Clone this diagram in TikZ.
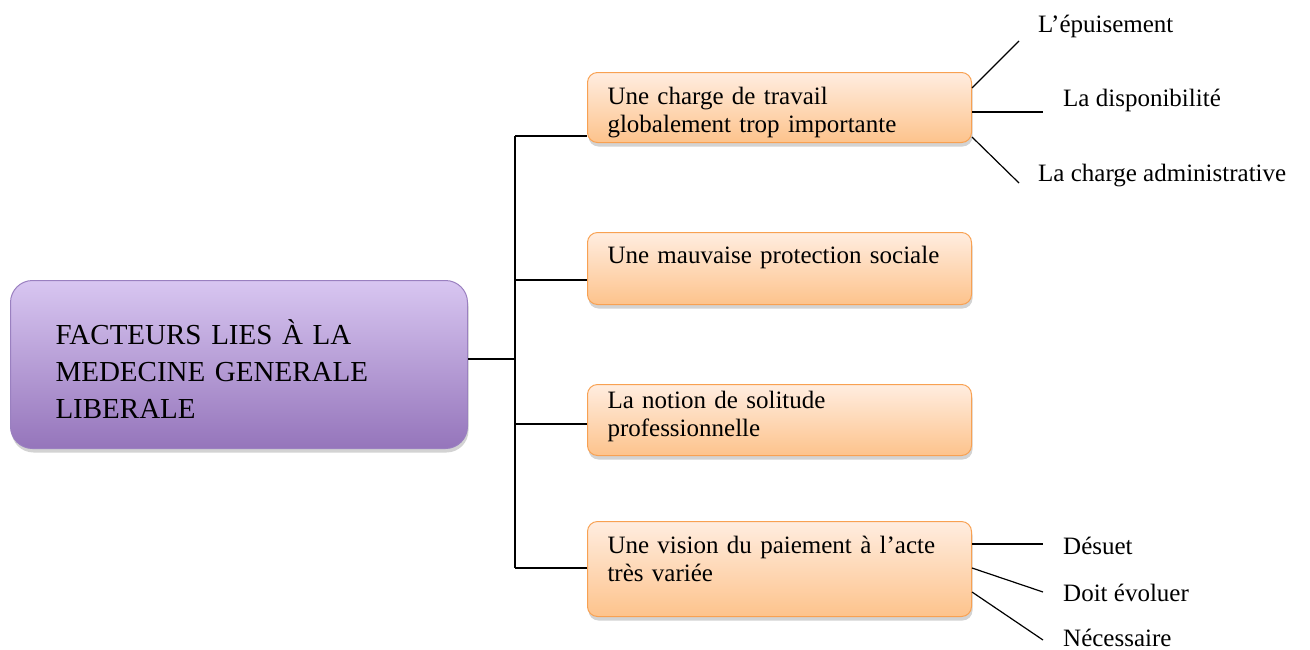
\documentclass[tikz,border=0pt]{standalone}
\usepackage{fontspec}
\setmainfont{Liberation Serif}
\usepackage{tikz}
\usetikzlibrary{calc,shadows}

\definecolor{lilastop}{HTML}{D8C6F1}
\definecolor{lilasbot}{HTML}{9575BB}
\definecolor{lilasbord}{HTML}{9A80C0}
\definecolor{orangetop}{HTML}{FFEDE0}
\definecolor{orangebot}{HTML}{FDC38C}
\definecolor{orangebord}{HTML}{F8A152}

\tikzset{
  theme/.style={draw=lilasbord,line width=1pt,rounded corners=22pt,
    top color=lilastop,bottom color=lilasbot,anchor=north west,
    inner xsep=45pt,inner ysep=0pt,text width=367pt,align=left,
    font=\fontsize{29}{37}\selectfont,
    drop shadow={shadow xshift=1pt,shadow yshift=-4pt,opacity=.35}},
  facteur/.style={draw=orangebord,line width=1pt,rounded corners=10pt,
    top color=orangetop,bottom color=orangebot,anchor=north west,
    inner xsep=20pt,inner ysep=0pt,text width=344pt,align=left,
    font=\fontsize{25}{28}\selectfont,
    drop shadow={shadow xshift=1pt,shadow yshift=-4pt,opacity=.35}},
  detail/.style={anchor=base west,inner sep=0pt,font=\fontsize{25}{28}\selectfont},
  trait/.style={line width=1.2pt}
}

\begin{document}
\begin{tikzpicture}[x=1pt,y=-1pt]
  \useasboundingbox (0,0) rectangle (1310,649);
  % theme central
  \node[theme,text height=64pt,text depth=104pt](main)at(10,280)
    {FACTEURS LIES À LA\\MEDECINE GENERALE\\LIBERALE};
  % les quatre facteurs
  \node[facteur,text height=32pt,text depth=38pt](f1)at(587,72)
    {Une charge de travail\\globalement trop importante};
  \node[facteur,text height=31pt,text depth=41pt](f2)at(587,232)
    {Une mauvaise protection sociale};
  \node[facteur,text height=24pt,text depth=47pt](f3)at(587,384)
    {La notion de solitude\\professionnelle};
  \node[facteur,text height=32pt,text depth=63pt](f4)at(587,521)
    {Une vision du paiement à l’acte\\très variée};
  % arbre
  \coordinate(j1)at(515,136);\coordinate(j2)at(515,280);
  \coordinate(j0)at(515,359);
  \coordinate(j3)at(515,424);\coordinate(j4)at(515,568);
  \draw[trait](j1)--(j4);
  \draw[trait](main.east|-j0)--(j0);
  \foreach \j/\f in {j1/f1,j2/f2,j3/f3,j4/f4}
    \draw[trait](\j)--(\j-|\f.west);
  % details du facteur 1
  \node[detail](d1)at(1038,32){L’épuisement};
  \node[detail](d2)at(1063,106){La disponibilité};
  \node[detail](d3)at(1038,181){La charge administrative};
  \coordinate(e1)at(1019,41);\coordinate(e2)at(1043,112);\coordinate(e3)at(1019,183);
  \draw[trait]($(f1.north east)+(0,16)$)--(e1);
  \draw[trait]($(f1.north east)+(0,40)$)--(e2);
  \draw[trait]($(f1.north east)+(0,65)$)--(e3);
  % details du facteur 4
  \node[detail](d4)at(1063,554){Désuet};
  \node[detail](d5)at(1063,601){Doit évoluer};
  \node[detail](d6)at(1063,646){Nécessaire};
  \coordinate(e4)at(1043,544);\coordinate(e5)at(1043,592);\coordinate(e6)at(1043,640);
  \draw[trait]($(f4.north east)+(0,23)$)--(e4);
  \draw[trait]($(f4.north east)+(0,47)$)--(e5);
  \draw[trait]($(f4.north east)+(0,71)$)--(e6);
\end{tikzpicture}
\end{document}
